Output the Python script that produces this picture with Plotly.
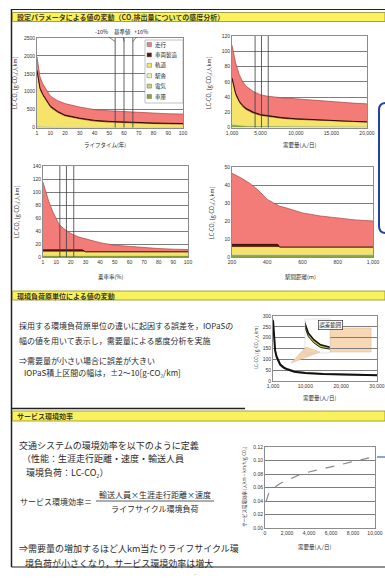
import plotly.graph_objects as go

W, H = 385, 578
JP = "Noto Sans CJK JP"
NUM = "Liberation Sans"


def fx(p):
    return p / W


def fy(p):
    return 1 - p / H


# ---------------- data ----------------
# stacked LC-CO2 components, legend order (top of stack first)
legend_names = ["走行", "車両製造", "軌道", "駅舎", "電気", "車庫"]

# lifetime sensitivity
life_years = [1, 2, 3, 5, 7, 10, 15, 20, 30, 40, 50, 60, 70, 80, 90, 100]
life_depot = [20, 18, 16, 14, 12, 11, 10, 9, 8, 8, 7, 7, 7, 6, 6, 6]
life_power = [10, 9, 8, 7, 6, 5, 5, 4, 4, 3, 3, 3, 3, 3, 3, 3]
life_station = [10, 9, 8, 7, 6, 5, 5, 4, 4, 3, 3, 3, 3, 3, 3, 3]
life_track = [1500, 1210, 1020, 850, 725, 540, 395, 295, 215, 155, 130, 110, 95, 88, 80, 75]
life_car = [60, 55, 50, 45, 40, 40, 35, 35, 30, 30, 28, 28, 26, 25, 25, 25]
life_run = [380, 350, 320, 290, 275, 280, 300, 320, 310, 300, 295, 290, 285, 275, 267, 263]
life_marks = [54, 60, 66]
life_mark_labels = ["-10%", "基準値", "+10%"]

# demand sensitivity
dem_x = [1000, 1500, 2000, 2500, 3000, 4000, 5000, 6000, 8000, 10000, 12000, 15000, 18000, 20000]
dem_depot = [3, 2.5, 2, 1.8, 1.6, 1.4, 1.3, 1.2, 1.1, 1.0, 1.0, 0.9, 0.9, 0.8]
dem_power = [1, 0.8, 0.7, 0.6, 0.5, 0.5, 0.4, 0.4, 0.4, 0.3, 0.3, 0.3, 0.3, 0.3]
dem_station = [1, 0.8, 0.7, 0.6, 0.5, 0.5, 0.4, 0.4, 0.4, 0.3, 0.3, 0.3, 0.3, 0.3]
dem_track = [57, 38.5, 29.5, 24, 20.5, 16, 13.3, 12, 9.7, 8.6, 7.7, 6.4, 5.5, 5.1]
dem_car = [3, 2.5, 2, 2, 2, 1.8, 1.6, 1.5, 1.4, 1.3, 1.2, 1.1, 1, 1]
dem_run = [43, 40, 35, 31, 29, 27, 26, 25.5, 26, 26, 25.5, 25, 24, 23.5]
dem_marks = [4250, 5150, 6100]

# load-factor sensitivity
load_x = [1, 3, 5, 8, 10, 12, 15, 20, 25, 28, 30, 40, 50, 60, 70, 80, 90, 100]
load_depot = [1.5, 1.5, 1.5, 1.5, 1.5, 1.5, 1.5, 1.5, 1.5, 1.5, 1.5, 1.5, 1.5, 1.5, 1.5, 1.5, 1.5, 1.5]
load_power = [0.5, 0.5, 0.5, 0.5, 0.5, 0.5, 0.5, 0.5, 0.5, 0.5, 0.5, 0.5, 0.5, 0.5, 0.5, 0.5, 0.5, 0.5]
load_station = [0.5, 0.5, 0.5, 0.5, 0.5, 0.5, 0.5, 0.5, 0.5, 0.5, 0.5, 0.5, 0.5, 0.5, 0.5, 0.5, 0.5, 0.5]
load_track = [5.5, 5.5, 5.5, 5.5, 5.5, 5.5, 5.5, 5.5, 5.5, 5.5, 5.5, 5.5, 5.5, 5.5, 5.5, 5.5, 5.5, 5.5]
load_car = [3, 3, 3, 3, 3, 3, 3, 3, 3, 3, 0, 0, 0, 0, 0, 0, 0, 0]
load_run = [104, 89, 74, 57, 49, 39, 33, 25, 20, 18, 20, 14, 10, 8, 6, 5, 4, 3.5]
load_marks = [12.5, 17, 22]

# station-spacing sensitivity
stop_x = [200, 250, 300, 350, 400, 450, 460, 470, 500, 600, 700, 800, 900, 1000]
stop_depot = [1.0, 1.0, 1.0, 1.0, 1.0, 1.0, 1.0, 1.0, 1.0, 1.0, 1.0, 1.0, 1.0, 1.0]
stop_power = [0.3, 0.3, 0.3, 0.3, 0.3, 0.3, 0.3, 0.3, 0.3, 0.3, 0.3, 0.3, 0.3, 0.3]
stop_station = [0.2, 0.2, 0.2, 0.2, 0.2, 0.2, 0.2, 0.2, 0.2, 0.2, 0.2, 0.2, 0.2, 0.2]
stop_track = [4, 4, 4, 4, 4, 4, 4, 4, 4, 4, 4, 4, 4, 4]
stop_car = [1.5, 1.5, 1.5, 1.5, 1.5, 1.5, 1.5, 0, 0, 0, 0, 0, 0, 0]
stop_run = [39.5, 37, 34, 30, 25, 22, 21.6, 22.7, 22, 19, 17.3, 16, 15.1, 14.5]

# emission-factor uncertainty vs demand
unit_x = [1000, 1300, 1600, 2000, 2500, 3000, 4000, 5000, 7000, 10000, 15000, 20000, 25000, 30000]
unit_mid = [280, 190, 140, 112, 90, 76, 62, 54, 43, 37, 32, 30, 28.5, 27]
unit_lo = [270, 181, 132, 105, 84, 70.5, 57, 50, 39.5, 34, 29.5, 28, 26.5, 25]
unit_hi = [290, 199, 148, 119, 96, 81.5, 67, 58, 46.5, 40, 34.5, 32, 30.5, 29]

# service eco-efficiency vs demand
eff_x = [100, 300, 500, 1000, 1500, 2000, 3000, 4000, 5000, 6000, 7000, 8000, 9000, 10000]
eff_y = [0.039, 0.050, 0.055, 0.062, 0.067, 0.071, 0.078, 0.083, 0.087, 0.091, 0.095, 0.099, 0.103, 0.106]

# ---------------- styles ----------------
FILL = {"走行": "#F37C78", "車両製造": "#5A180C", "軌道": "#F5E36A",
        "駅舎": "#EEF0B4", "電気": "#C6D27A", "車庫": "#8CA23E"}
EDGE = {"走行": "#A84545", "車両製造": "#2E0800", "軌道": "#D9C445",
        "駅舎": "#D2D496", "電気": "#A9B754", "車庫": "#6A7F2C"}
EDGE_W = {"走行": 0.7, "車両製造": 1.0, "軌道": 0.4, "駅舎": 0.3, "電気": 0.3, "車庫": 0.5}

fig = go.Figure()


def add_stack(xs, layers, n, group):
    xa = "x" if n == 1 else f"x{n}"
    ya = "y" if n == 1 else f"y{n}"
    for name, vals in layers:
        fig.add_trace(go.Scatter(
            x=xs, y=vals, name=name, stackgroup=group, mode="lines",
            line=dict(width=EDGE_W[name], color=EDGE[name]),
            fillcolor=FILL[name], xaxis=xa, yaxis=ya,
            showlegend=False, hoverinfo="skip"))


add_stack(life_years, [("車庫", life_depot), ("電気", life_power), ("駅舎", life_station),
                       ("軌道", life_track), ("車両製造", life_car), ("走行", life_run)], 1, "life")
add_stack(dem_x, [("車庫", dem_depot), ("電気", dem_power), ("駅舎", dem_station),
                  ("軌道", dem_track), ("車両製造", dem_car), ("走行", dem_run)], 2, "dem")
add_stack(load_x, [("車庫", load_depot), ("電気", load_power), ("駅舎", load_station),
                   ("軌道", load_track), ("車両製造", load_car), ("走行", load_run)], 3, "load")
add_stack(stop_x, [("車庫", stop_depot), ("電気", stop_power), ("駅舎", stop_station),
                   ("軌道", stop_track), ("車両製造", stop_car), ("走行", stop_run)], 4, "stop")

# uncertainty band + central curve
fig.add_trace(go.Scatter(x=unit_x, y=unit_lo, mode="lines", line=dict(width=0.6, color="#9a9a7a"),
                         xaxis="x5", yaxis="y5", showlegend=False, hoverinfo="skip"))
fig.add_trace(go.Scatter(x=unit_x, y=unit_hi, mode="lines", line=dict(width=0.6, color="#9a9a7a"),
                         fill="tonexty", fillcolor="rgba(205,198,140,0.6)",
                         xaxis="x5", yaxis="y5", showlegend=False, hoverinfo="skip"))
fig.add_trace(go.Scatter(x=unit_x, y=unit_mid, mode="lines", line=dict(width=2, color="#111"),
                         xaxis="x5", yaxis="y5", showlegend=False, hoverinfo="skip"))
# magnified view of the band
fig.add_trace(go.Scatter(x=unit_x, y=unit_lo, mode="lines", line=dict(width=1, color="#222"),
                         xaxis="x7", yaxis="y7", showlegend=False, hoverinfo="skip"))
fig.add_trace(go.Scatter(x=unit_x, y=unit_hi, mode="lines", line=dict(width=1.5, color="#111"),
                         fill="tonexty", fillcolor="#C9C83C",
                         xaxis="x7", yaxis="y7", showlegend=False, hoverinfo="skip"))

fig.add_trace(go.Scatter(x=eff_x, y=eff_y, mode="lines", line=dict(width=1.2, color="#8a8a8a", dash="dash"),
                         xaxis="x6", yaxis="y6", showlegend=False, hoverinfo="skip"))

# ---------------- axes ----------------
TICKF = dict(size=5, color="#333", family=NUM)


def axes(n, xdom, ydom, xr, yr, xt, yt, xfmt="", yfmt=""):
    sx = "" if n == 1 else str(n)
    xa = dict(domain=[fx(xdom[0]), fx(xdom[1])], range=xr, tickvals=xt, tickformat=xfmt,
              anchor="y" + sx, showgrid=False, zeroline=False, showline=True, mirror=True,
              linecolor="#8c8c8c", linewidth=1, ticks="", tickfont=TICKF, automargin=False,
              fixedrange=True)
    ya = dict(domain=[fy(ydom[1]), fy(ydom[0])], range=yr, tickvals=yt, tickformat=yfmt,
              anchor="x" + sx, showgrid=True, gridcolor="#7d7d7d", gridwidth=1,
              zeroline=False, showline=True, mirror=True, linecolor="#8c8c8c", linewidth=1,
              ticks="", tickfont=TICKF, automargin=False, fixedrange=True)
    return {"xaxis" + sx: xa, "yaxis" + sx: ya}


lay = {}
lay.update(axes(1, (37, 183), (38, 127.5), [1, 100], [0, 2500],
                [1, 10, 20, 30, 40, 50, 60, 70, 80, 90, 100], [0, 500, 1000, 1500, 2000, 2500]))
lay.update(axes(2, (232, 367), (36, 127.5), [1000, 20000], [0, 120],
                [1000, 5000, 10000, 15000, 20000], [0, 20, 40, 60, 80, 100, 120], xfmt=","))
lay.update(axes(3, (43, 188), (166, 257), [1, 100], [0, 140],
                [1, 10, 20, 30, 40, 50, 60, 70, 80, 90, 100], [0, 20, 40, 60, 80, 100, 120, 140]))
lay.update(axes(4, (232, 373), (167, 257), [200, 1000], [0, 50],
                [200, 400, 600, 800, 1000], [0, 10, 20, 30, 40, 50], xfmt=","))
lay.update(axes(5, (273, 377), (316, 381), [1000, 30000], [0, 300],
                [1000, 10000, 20000, 30000], [0, 50, 100, 150, 200, 250, 300], xfmt=","))
lay.update(axes(6, (265, 375), (447, 528), [0, 10000], [0, 0.12],
                [0, 2000, 4000, 6000, 8000, 10000], [0, 0.02, 0.04, 0.06, 0.08, 0.10, 0.12],
                xfmt=",", yfmt=".2f"))
# magnified inset
lay["xaxis7"] = dict(domain=[fx(305), fx(330)], range=[1350, 3200], anchor="y7", visible=False,
                     fixedrange=True)
lay["yaxis7"] = dict(domain=[fy(353), fy(319)], range=[60, 210], anchor="x7", visible=False,
                     fixedrange=True)

shapes = []
ann = []


def rect(x0, y0, x1, y1, fill, line="rgba(0,0,0,0)", lw=0, layer="above"):
    shapes.append(dict(type="rect", xref="paper", yref="paper", x0=fx(x0), x1=fx(x1),
                       y0=fy(y1), y1=fy(y0), fillcolor=fill, line=dict(color=line, width=lw),
                       layer=layer))


def hline(x0, x1, y, color="#222", w=1.2):
    shapes.append(dict(type="line", xref="paper", yref="paper", x0=fx(x0), x1=fx(x1),
                       y0=fy(y), y1=fy(y), line=dict(color=color, width=w)))


def vline(x, y0, y1, color="#222", w=1.5):
    shapes.append(dict(type="line", xref="paper", yref="paper", x0=fx(x), x1=fx(x),
                       y0=fy(y0), y1=fy(y1), line=dict(color=color, width=w)))


def text(x, y, s, size=8, anchor="left", color="#2a2a2a", angle=0, family=JP):
    ann.append(dict(x=fx(x), y=fy(y), xref="paper", yref="paper", text=s, showarrow=False,
                    xanchor=anchor, yanchor="middle", textangle=angle,
                    font=dict(size=size, color=color, family=family)))


# page frame and section bars
vline(11.5, 9, 567)
hline(11.5, 385, 9.5, w=1)
hline(11.5, 385, 567)
rect(12.5, 12.5, 385, 21.5, "#FAF25C", "#8f8a2a", 0.8)
rect(12.5, 291, 385, 300, "#FAF25C", "#8f8a2a", 0.8)
hline(12, 245, 408.5, w=1.4)
rect(12.5, 411, 385, 421, "#FAF25C", "#8f8a2a", 0.8)

text(15, 17, "<b>設定パラメータによる値の変動（CO₂排出量についての感度分析）</b>", 7, color="#3a3a20")
text(15, 295.5, "<b>環境負荷原単位による値の変動</b>", 7, color="#3a3a20")
text(15, 416, "<b>サービス環境効率</b>", 7, color="#3a3a20")

# parameter reference lines
for n, marks in ((1, life_marks), (2, dem_marks), (3, load_marks)):
    sx = "" if n == 1 else str(n)
    for m in marks:
        shapes.append(dict(type="line", xref="x" + sx, yref="y" + sx + " domain", x0=m, x1=m,
                           y0=0, y1=1, line=dict(color="#3c3c3c", width=0.8)))

for m, lab, ax in zip(life_marks, life_mark_labels, (-14, -2, 8)):
    ann.append(dict(x=m, y=2400, xref="x", yref="y", text=lab, showarrow=True, arrowhead=0,
                    arrowwidth=0.6, arrowcolor="#333", ax=ax, ay=-10,
                    font=dict(size=5.5, color="#222", family=JP)))

# legend for the stacked components
rect(145, 40, 183, 103, "white", "#999", 0.6)
for i, name in enumerate(legend_names):
    yy = 44.5 + i * 10.4
    rect(147, yy - 2, 151.5, yy + 2, FILL[name], "#555", 0.4)
    text(153, yy, name, 5.5, color="#222")

# axis titles
YT = "LC-CO₂ [g-CO₂/人km]"
text(105, 145, "ライフタイム(年)", 5.5, "center")
text(300, 145, "需要量(人/日)", 5.5, "center")
text(110, 277, "乗車率(%)", 5.5, "center")
text(300, 277, "駅間距離(m)", 5.5, "center")
text(320, 398, "需要量(人/日)", 5.5, "center")
text(315, 547, "需要量(人/日)", 5.5, "center")
text(15, 83, YT, 5.5, "center", angle=-90)
text(209, 82, YT, 5.5, "center", angle=-90)
text(17, 212, YT, 5.5, "center", angle=-90)
text(212, 212, YT, 5.5, "center", angle=-90)
text(256, 348, YT, 4.5, "center", angle=-90)
text(244, 487, "サービス環境効率 [人km・km/h/g-CO₂]", 4.5, "center", angle=-90)

# magnified-view callout
rect(330, 328, 371, 352, "#F7D8B4", "#D9B48C", 0.5, layer="below")
shapes.append(dict(type="path", xref="paper", yref="paper",
                   path=f"M {fx(306)} {fy(347)} L {fx(320)} {fy(352)} L {fx(291)} {fy(363)} Z",
                   fillcolor="#F2D3AE", line=dict(color="#D9B48C", width=0.5), layer="above"))
rect(305, 319, 330, 353, "rgba(255,255,255,0)", "#c9c9c9", 0.5)
ann.append(dict(x=fx(343), y=fy(324.5), xref="paper", yref="paper", text="誤差範囲",
                showarrow=False, font=dict(size=5.5, color="#222", family=JP),
                bgcolor="white", bordercolor="#333", borderwidth=0.7, borderpad=0.5))

# body text
text(17, 325, "採用する環境負荷原単位の違いに起因する誤差を，IOPaSの", 8)
text(17, 340, "幅の値を用いて表示し，需要量による感度分析を実施", 8)
text(17, 360, "⇒需要量が小さい場合に誤差が大きい", 8)
text(22, 372, "IOPaS積上区間の幅は，±2～10[g-CO₂/km]", 8)

text(17, 445, "交通システムの環境効率を以下のように定義", 9)
text(20, 458, "（性能：生涯走行距離・速度・輸送人員", 9)
text(24, 472, "環境負荷：LC-CO₂）", 9)
text(18, 501, "サービス環境効率＝", 8)
text(155, 494, "輸送人員×生涯走行距離×速度", 8, "center")
hline(96, 214, 501, "#333", 0.8)
text(155, 509, "ライフサイクル環境負荷", 8, "center")
text(17, 548, "⇒需要量の増加するほど人km当たりライフサイクル環", 9)
text(23, 563, "境負荷が小さくなり，サービス環境効率は増大", 9)

# side callout box edge and pointer
shapes.append(dict(type="path", xref="paper", yref="paper",
                   path=(f"M {fx(392)} {fy(103)} L {fx(386)} {fy(103)} "
                         f"Q {fx(379)} {fy(103)} {fx(379)} {fy(110)} L {fx(379)} {fy(226)} "
                         f"Q {fx(379)} {fy(233)} {fx(386)} {fy(233)} L {fx(392)} {fy(233)}"),
                   fillcolor="white", line=dict(color="#2342A8", width=2), layer="above"))
hline(377, 385, 457, "#2342A8", 1)
text(195, 574, "-", 5.5, "center", "#888")

fig.update_layout(width=W, height=H, margin=dict(l=0, r=0, t=0, b=0),
                  paper_bgcolor="white", plot_bgcolor="white", showlegend=False,
                  shapes=shapes, annotations=ann, **lay)

fig.write_html("out.html")
